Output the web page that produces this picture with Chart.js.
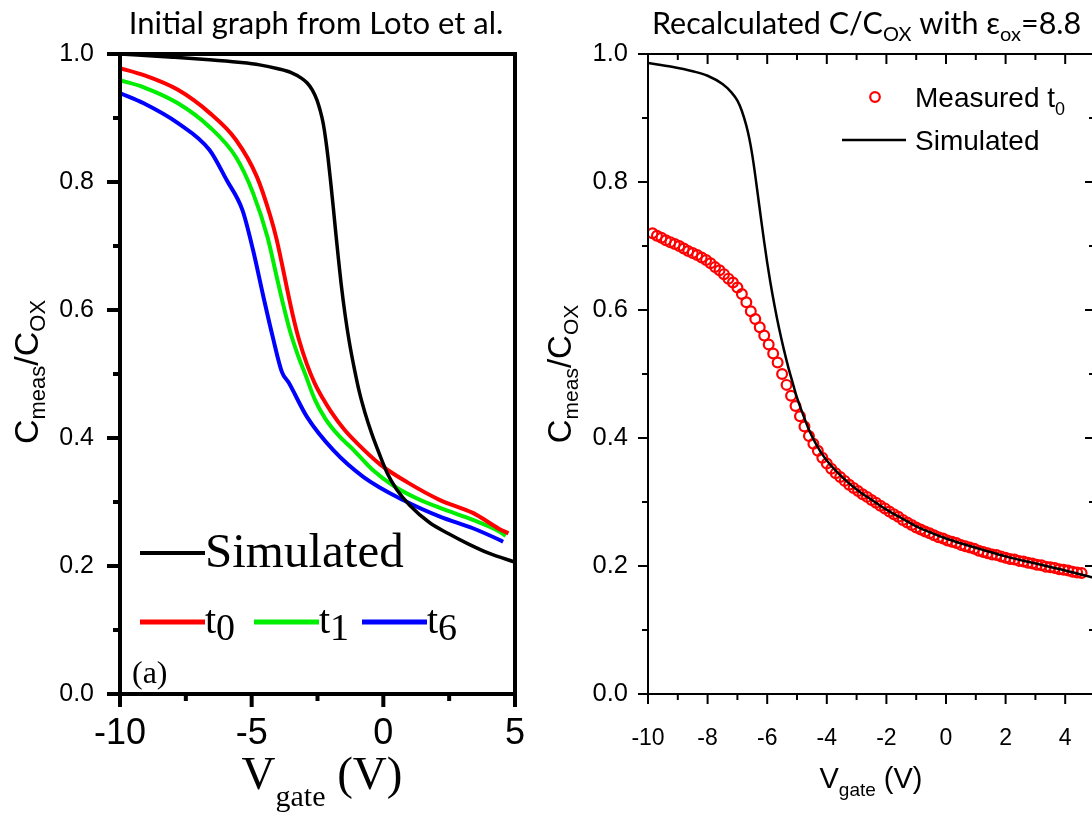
<!doctype html>
<html lang="en">
<head>
  <meta charset="utf-8">
  <title>C/Cox versus gate voltage</title>
  <script src="https://cdn.jsdelivr.net/npm/chart.js@4.4.1/dist/chart.umd.min.js"></script>
  <style>
    html, body { margin: 0; padding: 0; background: #fff; overflow: hidden; }
    #wrap { position: relative; width: 1092px; height: 818px; overflow: hidden; }
    #left { position: absolute; left: 0; top: 0; }
    #right { position: absolute; left: 546px; top: 0; }
  </style>
</head>
<body>
<div id="wrap">
  <canvas id="left" width="546" height="818"></canvas>
  <canvas id="right" width="560" height="818"></canvas>
</div>
<script>
// ---- panel (a): original curves ----
var simV = [-10, -8, -6.6, -5.5, -4.7, -4.0, -3.5, -3.1, -2.9, -2.7, -2.52, -2.4, -2.29, -2.2, -2.1, -2.0, -1.9, -1.8, -1.7, -1.6, -1.45, -1.3, -1.1, -0.9, -0.7, -0.45, -0.15, 0.15, 0.5, 1.0, 1.75, 2.5, 3.2, 4.0, 5.0];
var simC = [1.0, 0.995, 0.991, 0.987, 0.983, 0.977, 0.971, 0.962, 0.955, 0.944, 0.928, 0.912, 0.893, 0.870, 0.838, 0.800, 0.760, 0.718, 0.678, 0.640, 0.592, 0.552, 0.508, 0.470, 0.440, 0.408, 0.375, 0.345, 0.320, 0.295, 0.268, 0.250, 0.235, 0.220, 0.206];

var t0V = [-10, -9.1, -7.8, -6.6, -5.6, -4.8, -4.3, -4.05, -3.85, -3.65, -3.45, -3.2, -2.9, -2.6, -2.3, -2.0, -1.5, -1.0, -0.1, 0.9, 2.15, 3.4, 4.4, 4.75];
var t0C = [0.978, 0.967, 0.944, 0.908, 0.866, 0.808, 0.748, 0.710, 0.672, 0.632, 0.594, 0.553, 0.515, 0.485, 0.462, 0.442, 0.414, 0.392, 0.358, 0.331, 0.303, 0.283, 0.258, 0.251];

var t1V = [-10, -9.1, -7.8, -6.6, -5.6, -4.95, -4.4, -4.05, -3.8, -3.55, -3.25, -2.95, -2.6, -2.2, -1.7, -1.1, -0.4, 0.4, 1.3, 2.2, 3.4, 4.4, 4.65];
var t1C = [0.959, 0.948, 0.923, 0.886, 0.839, 0.783, 0.714, 0.652, 0.608, 0.568, 0.530, 0.498, 0.460, 0.430, 0.404, 0.380, 0.350, 0.325, 0.305, 0.290, 0.272, 0.254, 0.247];

var t6V = [-10, -9.1, -7.8, -6.6, -5.95, -5.35, -4.95, -4.55, -4.2, -3.85, -3.6, -2.9, -1.9, -0.75, 0.75, 2.15, 3.4, 4.4, 4.55];
var t6C = [0.939, 0.923, 0.892, 0.850, 0.803, 0.756, 0.694, 0.620, 0.558, 0.503, 0.487, 0.433, 0.381, 0.339, 0.303, 0.277, 0.259, 0.241, 0.238];

// ---- panel (b): recalculated with eps_ox = 8.8 ----
var measV = [-9.85, -9.7, -9.55, -9.4, -9.25, -9.1, -8.95, -8.8, -8.65, -8.5, -8.35, -8.2, -8.05, -7.9, -7.75, -7.6, -7.45, -7.3, -7.15, -7.0,
             -6.85, -6.7, -6.55, -6.4, -6.25, -6.1, -5.95, -5.8, -5.65, -5.5, -5.35, -5.2, -5.05, -4.9, -4.75, -4.6, -4.45, -4.3, -4.15, -4.0,
             -3.85, -3.7, -3.55, -3.4, -3.25, -3.1, -2.95, -2.8, -2.65, -2.5, -2.35, -2.2, -2.05, -1.9, -1.75, -1.6, -1.45, -1.3, -1.15, -1.0,
             -0.85, -0.7, -0.55, -0.4, -0.25, -0.1, 0.05, 0.2, 0.35, 0.5, 0.65, 0.8, 0.95, 1.1, 1.25, 1.4, 1.55, 1.7, 1.85, 2.0,
             2.15, 2.3, 2.45, 2.6, 2.75, 2.9, 3.05, 3.2, 3.35, 3.5, 3.65, 3.8, 3.95, 4.1, 4.25, 4.4, 4.55];
var measC = [0.720, 0.716, 0.713, 0.709, 0.706, 0.703, 0.700, 0.696, 0.692, 0.689, 0.686, 0.682, 0.678, 0.673, 0.667, 0.662, 0.656, 0.649, 0.643, 0.635,
             0.625, 0.612, 0.598, 0.586, 0.573, 0.560, 0.546, 0.532, 0.518, 0.500, 0.483, 0.466, 0.450, 0.434, 0.418, 0.403, 0.391, 0.380, 0.369, 0.360,
             0.352, 0.345, 0.339, 0.333, 0.327, 0.322, 0.317, 0.312, 0.308, 0.303, 0.299, 0.294, 0.290, 0.285, 0.281, 0.277, 0.272, 0.268, 0.264, 0.260,
             0.257, 0.254, 0.251, 0.248, 0.245, 0.243, 0.240, 0.238, 0.236, 0.233, 0.231, 0.229, 0.227, 0.224, 0.222, 0.220, 0.218, 0.217, 0.215, 0.213,
             0.211, 0.210, 0.208, 0.207, 0.205, 0.204, 0.202, 0.201, 0.199, 0.198, 0.197, 0.195, 0.194, 0.193, 0.191, 0.190, 0.189];

var sim2V = [-10, -9.2, -8.5, -8.0, -7.5, -7.2, -7.0, -6.85, -6.7, -6.6, -6.5, -6.4, -6.3, -6.2, -6.1, -6.0, -5.9, -5.75, -5.6, -5.45, -5.3, -5.15, -5.0,
             -4.8, -4.6, -4.4, -4.2, -4.0, -3.7, -3.3, -2.9, -2.45, -2.0, -1.5, -1.0, -0.45, 0.0, 0.6, 1.25, 2.0, 2.9, 4.0, 5.0];
var sim2C = [0.986, 0.980, 0.973, 0.966, 0.953, 0.940, 0.927, 0.911, 0.888, 0.868, 0.842, 0.810, 0.775, 0.740, 0.706, 0.674, 0.645, 0.606, 0.571, 0.540, 0.512, 0.487, 0.463,
             0.437, 0.413, 0.394, 0.378, 0.365, 0.349, 0.331, 0.316, 0.302, 0.288, 0.275, 0.262, 0.251, 0.243, 0.234, 0.225, 0.215, 0.205, 0.193, 0.181];

var yTicks = [0, 0.2, 0.4, 0.6, 0.8, 1.0];
var yMinor = [0.1, 0.3, 0.5, 0.7, 0.9];

function pts(xs, ys) {
  return xs.map(function (v, i) { return { x: v, y: ys[i] }; });
}

// write a row of text pieces (used for sub-scripts)
function drawRuns(ctx, x, y, runs, align) {
  var w = 0;
  runs.forEach(function (r) { ctx.font = r.font; r.w = ctx.measureText(r.text).width; w += r.w; });
  var cx = align === 'center' ? x - w / 2 : (align === 'right' ? x - w : x);
  runs.forEach(function (r) {
    ctx.font = r.font;
    ctx.fillText(r.text, cx, y + (r.dy || 0));
    cx += r.w;
  });
}

// axis box and tick marks, including minor ticks
var frame = {
  id: 'frame',
  afterDatasetsDraw: function (chart, args, o) {
    var ctx = chart.ctx, a = chart.chartArea, x = chart.scales.x, y = chart.scales.y;
    ctx.save();
    ctx.strokeStyle = '#000';
    ctx.lineWidth = o.lineWidth;
    ctx.lineCap = 'square';
    ctx.beginPath();
    ctx.moveTo(a.left, a.top);
    ctx.lineTo(a.left, a.bottom);
    ctx.lineTo(a.right, a.bottom);
    ctx.lineTo(a.right, a.top);
    ctx.closePath();
    ctx.stroke();

    ctx.lineCap = 'butt';
    ctx.beginPath();
    function seg(x0, y0, x1, y1) { ctx.moveTo(x0, y0); ctx.lineTo(x1, y1); }
    function xt(list, len) {
      list.forEach(function (v) {
        var p = x.getPixelForValue(v);
        seg(p, a.bottom, p, a.bottom + len);
        if (o.inner) seg(p, a.top, p, a.top + len);
      });
    }
    function yt(list, len) {
      list.forEach(function (v) {
        var p = y.getPixelForValue(v);
        seg(a.left - len, p, a.left, p);
        if (o.inner) seg(a.right - len, p, a.right, p);
      });
    }
    xt(o.xMajor, o.major); xt(o.xMinor, o.minor);
    yt(o.yMajor, o.major); yt(o.yMinor, o.minor);
    ctx.stroke();
    ctx.restore();
  }
};

var sans = function (s) { return s + 'px "Liberation Sans", Arial, sans-serif'; };
var serif = function (s) { return s + 'px "Liberation Serif", "Times New Roman", serif'; };

var leftText = {
  id: 'leftText',
  afterDraw: function (chart) {
    var ctx = chart.ctx;
    ctx.save();
    ctx.fillStyle = '#000';
    ctx.textBaseline = 'alphabetic';

    drawRuns(ctx, 316, 34, [{ text: 'Initial graph from Loto et al.', font: '31px Lato' }], 'center');

    // y title, rotated
    ctx.save();
    ctx.translate(38, 372);
    ctx.rotate(-Math.PI / 2);
    drawRuns(ctx, 0, 0, [
      { text: 'C', font: sans(34) }, { text: 'meas', font: sans(22), dy: 7 },
      { text: '/C', font: sans(34) }, { text: 'OX', font: sans(22), dy: 7 }
    ], 'center');
    ctx.restore();

    // x title
    drawRuns(ctx, 322, 789, [
      { text: 'V', font: serif(47) }, { text: 'gate', font: serif(30), dy: 17 }, { text: ' (V)', font: serif(47) }
    ], 'center');

    // legend
    ctx.lineWidth = 4;
    ctx.strokeStyle = '#000';
    ctx.beginPath(); ctx.moveTo(140, 553); ctx.lineTo(205, 553); ctx.stroke();
    drawRuns(ctx, 205, 567, [{ text: 'Simulated', font: serif(49) }], 'left');

    var keys = [['#ff0000', 140, '0'], ['#00ee00', 254, '1'], ['#0000ff', 362, '6']];
    keys.forEach(function (k) {
      ctx.strokeStyle = k[0];
      ctx.lineWidth = 5;
      ctx.beginPath(); ctx.moveTo(k[1], 622); ctx.lineTo(k[1] + 65, 622); ctx.stroke();
      drawRuns(ctx, k[1] + 65, 633, [{ text: 't', font: serif(40) }, { text: k[2], font: serif(38), dy: 7 }], 'left');
    });

    drawRuns(ctx, 132, 683, [{ text: '(a)', font: serif(32) }], 'left');
    ctx.restore();
  }
};

var rightText = {
  id: 'rightText',
  afterDraw: function (chart) {
    var ctx = chart.ctx;
    ctx.save();
    ctx.fillStyle = '#000';
    ctx.textBaseline = 'alphabetic';

    drawRuns(ctx, 106, 34, [
      { text: 'Recalculated C/C', font: '30.5px Lato' }, { text: 'OX', font: '20px Lato', dy: 7 },
      { text: ' with \u03b5', font: '30.5px Lato' }, { text: 'ox', font: '20px Lato', dy: 7 },
      { text: '=8.8', font: '30.5px Lato' }
    ], 'left');

    ctx.save();
    ctx.translate(25, 374);
    ctx.rotate(-Math.PI / 2);
    drawRuns(ctx, 0, 0, [
      { text: 'C', font: sans(33) }, { text: 'meas', font: sans(21), dy: 7 },
      { text: '/C', font: sans(33) }, { text: 'OX', font: sans(21), dy: 7 }
    ], 'center');
    ctx.restore();

    drawRuns(ctx, 325, 788, [
      { text: 'V', font: sans(29) }, { text: 'gate', font: sans(19), dy: 8 }, { text: ' (V)', font: sans(29) }
    ], 'center');

    // legend
    ctx.strokeStyle = '#ff0000';
    ctx.lineWidth = 2.2;
    ctx.beginPath(); ctx.arc(329, 97, 4.8, 0, Math.PI * 2); ctx.stroke();
    drawRuns(ctx, 369, 107, [{ text: 'Measured t', font: sans(28) }, { text: '0', font: sans(18), dy: 8 }], 'left');

    ctx.strokeStyle = '#000';
    ctx.lineWidth = 2.5;
    ctx.beginPath(); ctx.moveTo(296, 140); ctx.lineTo(360, 140); ctx.stroke();
    drawRuns(ctx, 369, 150, [{ text: 'Simulated', font: sans(28) }], 'left');
    ctx.restore();
  }
};

function axisFont(size) {
  return { family: '"Liberation Sans", Arial, sans-serif', size: size };
}

new Chart(document.getElementById('left'), {
  type: 'scatter',
  data: {
    datasets: [
      { label: 'Simulated', data: pts(simV, simC), borderColor: '#000', borderWidth: 3.5, showLine: true },
      { label: 't0', data: pts(t0V, t0C), borderColor: '#ff0000', borderWidth: 4, showLine: true },
      { label: 't1', data: pts(t1V, t1C), borderColor: '#00ee00', borderWidth: 4, showLine: true },
      { label: 't6', data: pts(t6V, t6C), borderColor: '#0000ff', borderWidth: 4, showLine: true }
    ]
  },
  options: {
    responsive: false,
    animation: false,
    layout: { padding: { top: 54, right: 31, left: 0, bottom: 0 } },
    elements: { point: { radius: 0 }, line: { cubicInterpolationMode: 'monotone' } },
    plugins: {
      legend: { display: false },
      tooltip: { enabled: false },
      frame: { lineWidth: 4, major: 13, minor: 7, inner: false,
               xMajor: [-10, -5, 0, 5], xMinor: [-7.5, -2.5, 2.5], yMajor: yTicks, yMinor: yMinor }
    },
    scales: {
      x: {
        type: 'linear', min: -10, max: 5,
        ticks: { stepSize: 5, color: '#000', font: axisFont(36), padding: 18, autoSkip: false, maxRotation: 0 },
        grid: { display: false, drawTicks: false }, border: { display: false },
        afterFit: function (s) { s.height = 124; }
      },
      y: {
        min: 0, max: 1,
        ticks: { stepSize: 0.2, color: '#000', font: axisFont(25), padding: 26,
                 callback: function (v) { return v.toFixed(1); } },
        grid: { display: false, drawTicks: false }, border: { display: false },
        afterFit: function (s) { s.width = 120; }
      }
    }
  },
  plugins: [frame, leftText]
});

new Chart(document.getElementById('right'), {
  type: 'scatter',
  data: {
    datasets: [
      { label: 'Simulated', data: pts(sim2V, sim2C), borderColor: '#000', borderWidth: 2.5, showLine: true, pointRadius: 0 },
      { label: 'Measured t0', data: pts(measV, measC), borderColor: '#ff0000', backgroundColor: 'rgba(255,255,255,0)',
        pointRadius: 4.9, pointBorderWidth: 2.2, showLine: false }
    ]
  },
  options: {
    responsive: false,
    animation: false,
    layout: { padding: { top: 54, right: 11, left: 0, bottom: 0 } },
    elements: { line: { cubicInterpolationMode: 'monotone' } },
    plugins: {
      legend: { display: false },
      tooltip: { enabled: false },
      frame: { lineWidth: 2, major: 10, minor: 6, inner: true,
               xMajor: [-10, -8, -6, -4, -2, 0, 2, 4], xMinor: [-9, -7, -5, -3, -1, 1, 3, 5],
               yMajor: yTicks, yMinor: yMinor }
    },
    scales: {
      x: {
        type: 'linear', min: -10, max: 5,
        ticks: { stepSize: 2, includeBounds: false, color: '#000', font: axisFont(23), padding: 31, autoSkip: false, maxRotation: 0 },
        grid: { display: false, drawTicks: false }, border: { display: false },
        afterFit: function (s) { s.height = 124; }
      },
      y: {
        min: 0, max: 1,
        ticks: { stepSize: 0.2, color: '#000', font: axisFont(25.5), padding: 20,
                 callback: function (v) { return v.toFixed(1); } },
        grid: { display: false, drawTicks: false }, border: { display: false },
        afterFit: function (s) { s.width = 102; }
      }
    }
  },
  plugins: [frame, rightText]
});
</script>
</body>
</html>
